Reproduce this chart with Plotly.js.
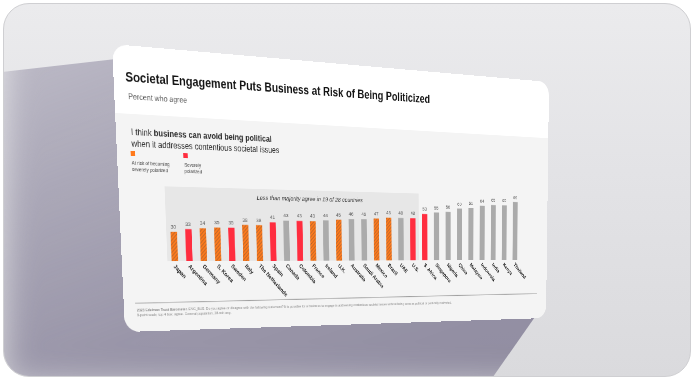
<!DOCTYPE html>
<html>
<head>
<meta charset="utf-8">
<script src="https://cdn.plot.ly/plotly-3.0.1.min.js"></script>
<style>
  html, body { margin:0; padding:0; width:694px; height:380px; overflow:hidden; background:#ffffff; }
  #frame { position:absolute; left:3px; top:3px; width:686px; height:372px; border-radius:26px;
           border:1px solid #cfcfd2; overflow:hidden;
           background: linear-gradient(to bottom, #ebebed 0%, #e3e3e6 45%, #dadadd 100%); }
  #shadow { position:absolute; left:0; top:0; width:694px; height:380px;
            background: linear-gradient(160deg, rgba(160,156,175,0.55) 0%, rgba(150,146,166,0.95) 60%, rgba(140,136,156,1) 100%);
            clip-path: polygon(-20px 70px, 112px 55px, 540px 300px, 470px 400px, -20px 400px);
            filter: blur(16px); }
  #card { position:absolute; left:0; top:0; width:800px; height:400px; border-radius:22px; overflow:hidden;
          transform-origin: 0 0;
          background: linear-gradient(to bottom, #ffffff 0px, #ffffff 93px, #f4f4f4 93px, #f4f4f4 100%); }
  #chart { width:800px; height:400px; }
</style>
</head>
<body>
<div id="frame"><div id="shadow"></div></div>
<div id="card"><div id="chart"></div></div>
<script>
// ---- data ----
const categories = ['Japan','Argentina','Germany','S. Korea','Sweden','Italy','The Netherlands','Spain','Canada','Colombia','France','Ireland','U.K.','Australia','Saudi Arabia','Mexico','Brazil','UAE','U.S.','S. Africa','Singapore','Nigeria','China','Malaysia','Indonesia','India','Kenya','Thailand'];
const values = [30,33,34,35,35,38,38,41,43,43,43,44,45,46,46,47,48,48,48,53,55,56,60,61,64,65,65,69];
const groups = ['risk','severe','risk','risk','severe','risk','risk','severe','none','severe','risk','none','risk','none','none','risk','risk','none','severe','severe','none','none','none','none','none','none','none','none'];
const belowMajorityCount = 19;

// ---- styles ----
const FONT = 'Liberation Sans, Arial, Helvetica, sans-serif';
const colorOf = {risk:'#ff7a1c', severe:'#ff2d3f', none:'#ababab'};
const fgOf = {risk:'#f26410', severe:'#ff2d3f', none:'#ababab'};
const shapeOf = {risk:'/', severe:'', none:''};

const W = 800, H = 400;
const mL = 72, mR = 60, mT = 192, mB = 101;
const pw = W - mL - mR, ph = H - mT - mB;
const px = X => (X - mL) / pw;
const py = Y => (H - mB - Y) / ph;

const trace = {
  type:'bar', x: categories, y: values,
  marker:{ color: groups.map(g => colorOf[g]),
           pattern:{ shape: groups.map(g => shapeOf[g]), fgcolor: groups.map(g => fgOf[g]),
                     fillmode:'overlay', size:4, solidity:0.25 } },
  text: values.map(String), textposition:'outside', cliponaxis:false,
  textfont:{ family:FONT, size:8, color:'#555' },
  hoverinfo:'none'
};

const ann = (X, Y, text, size, extra) => Object.assign({
  xref:'paper', yref:'paper', x:px(X), y:py(Y), text, showarrow:false, xanchor:'left', yanchor:'top', align:'left',
  font:{ family:FONT, size, color:'#333' }
}, extra || {});

const layout = {
  width:W, height:H, margin:{l:mL, r:mR, t:mT, b:mB, pad:0},
  paper_bgcolor:'rgba(0,0,0,0)', plot_bgcolor:'rgba(0,0,0,0)',
  showlegend:false, bargap:0.56,
  title:{ text:'Societal Engagement Puts Business at Risk of Being Politicized', x:18/W, xref:'container', xanchor:'left',
          y:1-43/H, yref:'container', yanchor:'middle', font:{ family:FONT, size:17.5, weight:700, color:'#141414' } },
  xaxis:{ range:[-0.5, categories.length - 0.5], showgrid:false, zeroline:false, showline:false, ticks:'',
          tickangle:45, tickfont:{ family:FONT, size:8.5, weight:700, color:'#222' }, automargin:false },
  yaxis:{ range:[0, 76], visible:false, fixedrange:true },
  shapes:[
    { type:'rect', xref:'x', yref:'y', x0:-0.5, x1:belowMajorityCount - 0.5, y0:-1.5, y1:76, fillcolor:'#e7e7e7', line:{width:0}, layer:'below' },
    { type:'rect', xref:'paper', yref:'paper', x0:px(21), x1:px(28), y0:py(144), y1:py(151), fillcolor:colorOf.risk, line:{width:0} },
    { type:'rect', xref:'paper', yref:'paper', x0:px(104), x1:px(111), y0:py(144), y1:py(151), fillcolor:colorOf.severe, line:{width:0} },
    { type:'line', xref:'paper', yref:'paper', x0:px(18), x1:px(778), y0:py(359), y1:py(357), line:{color:'#a0a0a0', width:1.2} }
  ],
  annotations:[
    ann(19, 61, 'Percent who agree', 11, {font:{family:FONT, size:11, color:'#555'}}),
    ann(20, 109, 'I think <b>business can avoid being political</b><br>when it addresses contentious societal issues', 12, {font:{family:FONT, size:12, color:'#2a2a2a'}}),
    ann(20, 155, 'At risk of becoming<br>severely polarized', 7, {font:{family:FONT, size:7, color:'#444'}}),
    ann(103, 155, 'Severely<br>polarized', 7, {font:{family:FONT, size:7, color:'#444'}}),
    { xref:'x', yref:'y', x:(belowMajorityCount - 1) / 2 + 0.9, y:67, text:'<i>Less than majority agree in 19 of 28 countries</i>', showarrow:false,
      xanchor:'center', yanchor:'middle', font:{family:FONT, size:9.5, color:'#333'} },
    ann(18, 364, '<b>2023 Edelman Trust Barometer.</b> ENG_BUS. Do you agree or disagree with the following statement? It is possible for a business to engage in addressing contentious societal issues without being seen as political or politically motivated.', 5.5, {font:{family:FONT, size:5.5, color:'#8a8a8a'}}),
    ann(18, 371, '9-point scale; top 4 box, agree. General population, 28-mkt avg.', 5.5, {font:{family:FONT, size:5.5, color:'#8a8a8a'}})
  ]
};

Plotly.newPlot('chart', [trace], layout, {displayModeBar:false, staticPlot:true});

// ---- perspective placement of the card ----
function homography(src, dst) {
  const A = [], b = [];
  for (let i = 0; i < 4; i++) {
    const [x, y] = src[i], [X, Y] = dst[i];
    A.push([x, y, 1, 0, 0, 0, -x * X, -y * X]); b.push(X);
    A.push([0, 0, 0, x, y, 1, -x * Y, -y * Y]); b.push(Y);
  }
  const n = 8;
  for (let c = 0; c < n; c++) {
    let p = c;
    for (let r = c + 1; r < n; r++) if (Math.abs(A[r][c]) > Math.abs(A[p][c])) p = r;
    [A[c], A[p]] = [A[p], A[c]]; [b[c], b[p]] = [b[p], b[c]];
    for (let r = 0; r < n; r++) {
      if (r === c) continue;
      const f = A[r][c] / A[c][c];
      for (let k = c; k < n; k++) A[r][k] -= f * A[c][k];
      b[r] -= f * b[c];
    }
  }
  return b.map((v, i) => v / A[i][i]);
}
const corners = [[112, 44], [549, 82], [546, 318], [125, 332]];
const h = homography([[0, 0], [W, 0], [W, H], [0, H]], corners);
document.getElementById('card').style.transform =
  `matrix3d(${h[0]},${h[3]},0,${h[6]},${h[1]},${h[4]},0,${h[7]},0,0,1,0,${h[2]},${h[5]},0,1)`;
</script>
</body>
</html>
